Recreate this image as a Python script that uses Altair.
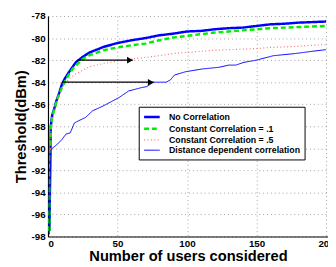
import altair as alt
import pandas as pd

series_names = ["No Correlation", "Constant Correlation = .1",
                "Constant Correlation = .5", "Distance dependent correlation"]
series_colors = ["#0000ff", "#00ee00", "#ff7070", "#0000ff"]
series_dash = [[1, 0], [5, 3], [1, 2.5], [1, 0]]
series_width = [2.5, 2.5, 1.2, 1.0]

no_corr_x = [1, 2, 3, 4, 5, 6, 8, 10, 12, 15, 20, 25, 30, 40, 50, 60, 70, 80, 90,
             100, 110, 120, 130, 140, 150, 160, 170, 180, 190, 200]
no_corr_y = [-97.5, -88.0, -87.0, -86.6, -86.2, -85.7, -85.0, -84.2, -83.7, -83.1,
             -82.2, -81.7, -81.3, -80.8, -80.45, -80.2, -80.0, -79.75, -79.6,
             -79.4, -79.35, -79.2, -79.1, -79.05, -78.9, -78.75, -78.7, -78.6,
             -78.55, -78.5]

c01_x = [1, 2, 3, 4, 5, 6, 8, 10, 12, 15, 18, 20, 25, 30, 40, 50, 60, 70, 80, 90,
         100, 110, 120, 130, 140, 150, 160, 170, 180, 190, 200]
c01_y = [-97.5, -88.2, -87.2, -86.7, -86.3, -85.8, -85.1, -84.5, -84.0, -83.3,
         -82.75, -82.5, -81.9, -81.55, -81.1, -80.85, -80.65, -80.5, -80.2,
         -79.95, -79.8, -79.65, -79.5, -79.4, -79.3, -79.2, -79.1, -79.05,
         -79.0, -78.95, -78.9]

c05_x = [1, 2, 3, 4, 5, 6, 8, 10, 12, 16, 20, 25, 30, 40, 50, 60, 70, 80, 90,
         100, 110, 120, 130, 140, 150, 160, 170, 180, 190, 200]
c05_y = [-97.5, -88.5, -87.4, -86.9, -86.4, -85.9, -85.2, -84.6, -84.1, -83.6,
         -83.25, -82.9, -82.6, -82.3, -82.1, -81.9, -81.75, -81.6, -81.4,
         -81.3, -81.2, -81.1, -81.05, -81.0, -80.95, -80.85, -80.8, -80.75,
         -80.65, -80.6]

dist_x = [1, 2, 3, 5, 7, 10, 13, 16, 19, 22, 27, 32, 39, 45, 51, 58, 67, 71, 76,
          85, 88, 91, 99, 111, 123, 130, 135, 141, 150, 162, 178, 190, 200]
dist_y = [-97.8, -90.2, -90.0, -89.8, -89.6, -89.2, -88.7, -88.6, -87.7, -87.5,
          -87.2, -86.6, -86.2, -85.8, -85.4, -84.8, -84.5, -84.4, -84.0,
          -84.0, -83.8, -83.35, -83.05, -82.8, -82.65, -82.45, -82.45, -82.2,
          -82.0, -81.6, -81.4, -81.2, -81.05]

arrow_x_start = [21, 10]
arrow_x_end = [61, 76]
arrow_y = [-82, -84]

x_ticks = [0, 50, 100, 150, 200]
y_ticks = [-98, -96, -94, -92, -90, -88, -86, -84, -82, -80, -78]

rows = []
for name, xs, ys in zip(series_names,
                        [no_corr_x, c01_x, c05_x, dist_x],
                        [no_corr_y, c01_y, c05_y, dist_y]):
    for i, (xv, yv) in enumerate(zip(xs, ys)):
        rows.append({"series": name, "users": xv, "thr": yv, "order": i})
df = pd.DataFrame(rows)
arrows = pd.DataFrame({"x0": arrow_x_start, "x1": arrow_x_end, "y": arrow_y})

xscale = alt.Scale(domain=[0, 201.4], nice=False, zero=False)
yscale = alt.Scale(domain=[-98, -78], nice=False, zero=False)

lab_font = "Liberation Sans"

xaxis = alt.Axis(values=x_ticks, tickCount=len(x_ticks),
                 title="Number of users considered", grid=True,
                 ticks=False, labelPadding=2, titlePadding=1, labelOverlap=False)
yaxis = alt.Axis(values=y_ticks, tickCount=len(y_ticks), title="Threshold(dBm)",
                 grid=True, ticks=False, labelPadding=3, titlePadding=3,
                 labelOverlap=False, labelExpr="'' + datum.value")

lines = alt.Chart(df).mark_line(clip=True).encode(
    x=alt.X("users:Q", scale=xscale, axis=xaxis),
    y=alt.Y("thr:Q", scale=yscale, axis=yaxis),
    order="order:Q",
    color=alt.Color("series:N",
                    scale=alt.Scale(domain=series_names, range=series_colors),
                    legend=alt.Legend(title=None, orient="top-left", offset=93,
                                      symbolType="M-1.6,0H1.6", symbolSize=100,
                                      symbolOffset=3,
                                      labelFont=lab_font, labelFontSize=9,
                                      labelFontWeight="bold", labelColor="black",
                                      fillColor="white", strokeColor="black",
                                      padding=4, rowPadding=-0.7, labelOffset=11,
                                      labelLimit=300)),
    strokeDash=alt.StrokeDash("series:N",
                              scale=alt.Scale(domain=series_names, range=series_dash)),
    strokeWidth=alt.StrokeWidth("series:N",
                                scale=alt.Scale(type="ordinal", domain=series_names,
                                                range=series_width)),
)

arrow_lines = alt.Chart(arrows).mark_rule(color="black", strokeWidth=1.2).encode(
    x=alt.X("x0:Q", scale=xscale), x2="x1:Q", y=alt.Y("y:Q", scale=yscale)
)
arrow_heads = alt.Chart(arrows).mark_point(shape="triangle-right", filled=True,
                                           color="black", size=45, opacity=1,
                                           xOffset=-3).encode(
    x=alt.X("x1:Q", scale=xscale), y=alt.Y("y:Q", scale=yscale)
)

chart = alt.layer(lines, arrow_lines, arrow_heads).properties(
    width=287, height=226,
    autosize=alt.AutoSizeParams(type="none"),
    padding={"left": 41, "top": 5, "right": 0, "bottom": 28},
).configure_view(strokeWidth=0).configure_axis(
    domainColor="black", domainWidth=1.2,
    gridColor="#a0a0a0", gridDash=[1, 3], gridWidth=1,
    labelFont=lab_font, labelFontSize=10, labelFontWeight="bold", labelColor="black",
    titleFont=lab_font, titleFontSize=15, titleFontWeight="bold", titleColor="black",
)

chart.save("out.html", embed_options={"renderer": "svg", "actions": False})
